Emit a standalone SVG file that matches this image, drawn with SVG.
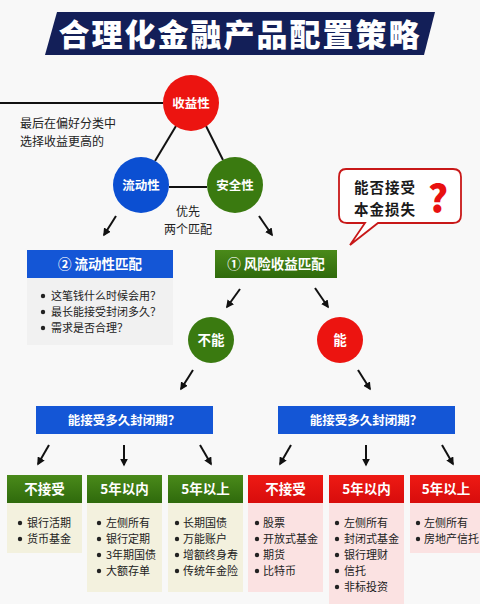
<svg xmlns="http://www.w3.org/2000/svg" width="480" height="604" viewBox="0 0 480 604">
<defs>
<style>
text{font-family:"Noto Sans CJK SC","Liberation Sans",sans-serif;}
.t{fill:#fff;font-weight:700;text-anchor:middle;}
.li{fill:#222;font-size:11px;}
.ln{stroke:#111;stroke-width:2;fill:none;}
.ar{stroke:#111;stroke-width:2;fill:none;marker-end:url(#ah);}
.gh{fill:url(#gg);}
.rh{fill:url(#rg);}
.gb{fill:#f3f1de;}
.rb{fill:#fbe2e2;}
</style>
<marker id="ah" viewBox="0 0 10 10" refX="8" refY="5" markerWidth="4" markerHeight="4" orient="auto"><path d="M0,0 L10,5 L0,10 z" fill="#111"/></marker>
<linearGradient id="gg" x1="0" y1="0" x2="0" y2="1"><stop offset="0" stop-color="#4a8a1a"/><stop offset="1" stop-color="#2f6a0c"/></linearGradient>
<linearGradient id="rg" x1="0" y1="0" x2="0" y2="1"><stop offset="0" stop-color="#ee1a14"/><stop offset="1" stop-color="#d80c0c"/></linearGradient>
</defs>
<rect width="480" height="604" fill="#f8f8f8"/>
<g id="title">
<polygon points="57,12 435,12 424,55 45,55" fill="#131f58"/>
<text x="240" y="46" class="t" style="font-size:31px;font-weight:900;letter-spacing:2px">合理化金融产品配置策略</text>
</g>
<g id="connectors">
<line x1="0" y1="103" x2="163" y2="103" class="ln"/>
<line x1="176" y1="126" x2="155" y2="161" class="ln"/>
<line x1="206" y1="126" x2="223" y2="160" class="ln"/>
<line x1="169" y1="187" x2="207" y2="187" class="ln"/>
<line x1="116" y1="216" x2="104" y2="235" class="ar"/>
<line x1="259" y1="216" x2="272" y2="235" class="ar"/>
<line x1="240" y1="289" x2="227" y2="307" class="ar"/>
<line x1="315" y1="288" x2="328" y2="307" class="ar"/>
<line x1="193" y1="370" x2="181" y2="389" class="ar"/>
<line x1="358" y1="370" x2="370" y2="389" class="ar"/>
<line x1="49" y1="445" x2="38" y2="464" class="ar"/>
<line x1="124" y1="445" x2="124" y2="465" class="ar"/>
<line x1="200" y1="445" x2="211" y2="464" class="ar"/>
<line x1="291" y1="445" x2="280" y2="464" class="ar"/>
<line x1="366" y1="445" x2="366" y2="465" class="ar"/>
<line x1="442" y1="445" x2="453" y2="464" class="ar"/>
</g>
<g id="note-left">
<text x="20" y="128" class="li" style="font-size:12px">最后在偏好分类中</text>
<text x="20" y="146" class="li" style="font-size:12px">选择收益更高的</text>
</g>
<g id="note-mid">
<text x="188" y="216" class="li" style="font-size:12px;text-anchor:middle">优先</text>
<text x="188" y="234" class="li" style="font-size:12px;text-anchor:middle">两个匹配</text>
</g>
<g id="shouyi">
<circle cx="191" cy="103" r="28" fill="#ec1410"/>
<text x="191" y="108" class="t" style="font-size:12.5px">收益性</text>
</g>
<g id="liudong">
<circle cx="141" cy="185" r="28" fill="#0b4fd2"/>
<text x="141" y="190" class="t" style="font-size:12.5px">流动性</text>
</g>
<g id="anquan">
<circle cx="235" cy="185" r="28" fill="#3a7a10"/>
<text x="235" y="190" class="t" style="font-size:12.5px">安全性</text>
</g>
<g id="bubble">
<path d="M346,169 H453 Q461,169 461,177 V215 Q461,223 453,223 H378 L350,245 L365,223 H347 Q339,223 339,215 V177 Q339,169 346,169 Z" fill="#fff" stroke="#c81818" stroke-width="1.8"/>
<text x="354" y="193" style="font-size:14.5px;font-weight:700;fill:#1a1a1a;letter-spacing:1px">能否接受</text>
<text x="354" y="214.5" style="font-size:14.5px;font-weight:700;fill:#1a1a1a;letter-spacing:1px">本金损失</text>
<text x="438" y="213" style="font-size:38px;font-weight:900;fill:#e8100f;text-anchor:middle">?</text>
</g>
<g id="match2">
<rect x="27" y="250" width="146" height="28" fill="#1456d6"/>
<text x="100" y="269" class="t" style="font-size:13.5px">② 流动性匹配</text>
<rect x="27" y="278" width="146" height="67" fill="#f1f1f1"/>
<circle cx="43" cy="296" r="2.2" fill="#222"/><text x="51" y="300" class="li">这笔钱什么时候会用？</text>
<circle cx="43" cy="312" r="2.2" fill="#222"/><text x="51" y="316" class="li">最长能接受封闭多久？</text>
<circle cx="43" cy="328" r="2.2" fill="#222"/><text x="51" y="332" class="li">需求是否合理？</text>
</g>
<g id="match1">
<rect x="215" y="250" width="122" height="28" fill="url(#gg)"/>
<text x="276" y="269" class="t" style="font-size:13.5px">① 风险收益匹配</text>
</g>
<g id="buneng">
<circle cx="211" cy="340" r="23" fill="#3a7a10"/>
<text x="211" y="345" class="t" style="font-size:13.5px">不能</text>
</g>
<g id="neng">
<circle cx="340" cy="340" r="23" fill="#ec1410"/>
<text x="340" y="345" class="t" style="font-size:13.5px">能</text>
</g>
<g id="q-left">
<rect x="36" y="406" width="177" height="28" fill="#1456d6"/>
<text x="124" y="424.5" class="t" style="font-size:12.5px">能接受多久封闭期？</text>
</g>
<g id="q-right">
<rect x="278" y="406" width="177" height="28" fill="#1456d6"/>
<text x="366" y="424.5" class="t" style="font-size:12.5px">能接受多久封闭期？</text>
</g>
<g id="g1">
<rect x="7" y="503" width="75" height="50" class="gb"/>
<rect x="7" y="475" width="75" height="28" class="gh"/>
<text x="44.5" y="494" class="t" style="font-size:13.5px">不接受</text>
<circle cx="20" cy="523" r="2.2" fill="#222"/><text x="27" y="527" class="li">银行活期</text>
<circle cx="20" cy="539" r="2.2" fill="#222"/><text x="27" y="543" class="li">货币基金</text>
</g>
<g id="g2">
<rect x="87" y="503" width="75" height="89" class="gb"/>
<rect x="87" y="475" width="75" height="28" class="gh"/>
<text x="124.5" y="494" class="t" style="font-size:13.5px">5年以内</text>
<circle cx="99" cy="523" r="2.2" fill="#222"/><text x="106" y="527" class="li">左侧所有</text>
<circle cx="99" cy="539" r="2.2" fill="#222"/><text x="106" y="543" class="li">银行定期</text>
<circle cx="99" cy="555" r="2.2" fill="#222"/><text x="106" y="559" class="li">3年期国债</text>
<circle cx="99" cy="571" r="2.2" fill="#222"/><text x="106" y="575" class="li">大额存单</text>
</g>
<g id="g3">
<rect x="168" y="503" width="75" height="89" class="gb"/>
<rect x="168" y="475" width="75" height="28" class="gh"/>
<text x="205.5" y="494" class="t" style="font-size:13.5px">5年以上</text>
<circle cx="177" cy="523" r="2.2" fill="#222"/><text x="183" y="527" class="li">长期国债</text>
<circle cx="177" cy="539" r="2.2" fill="#222"/><text x="183" y="543" class="li">万能账户</text>
<circle cx="177" cy="555" r="2.2" fill="#222"/><text x="183" y="559" class="li">增额终身寿</text>
<circle cx="177" cy="571" r="2.2" fill="#222"/><text x="183" y="575" class="li">传统年金险</text>
</g>
<g id="r1">
<rect x="248" y="503" width="75" height="89" class="rb"/>
<rect x="248" y="475" width="75" height="28" class="rh"/>
<text x="285.5" y="494" class="t" style="font-size:13.5px">不接受</text>
<circle cx="257" cy="523" r="2.2" fill="#222"/><text x="263" y="527" class="li">股票</text>
<circle cx="257" cy="539" r="2.2" fill="#222"/><text x="263" y="543" class="li">开放式基金</text>
<circle cx="257" cy="555" r="2.2" fill="#222"/><text x="263" y="559" class="li">期货</text>
<circle cx="257" cy="571" r="2.2" fill="#222"/><text x="263" y="575" class="li">比特币</text>
</g>
<g id="r2">
<rect x="329" y="503" width="75" height="101" class="rb"/>
<rect x="329" y="475" width="75" height="28" class="rh"/>
<text x="366.5" y="494" class="t" style="font-size:13.5px">5年以内</text>
<circle cx="337" cy="523" r="2.2" fill="#222"/><text x="344" y="527" class="li">左侧所有</text>
<circle cx="337" cy="539" r="2.2" fill="#222"/><text x="344" y="543" class="li">封闭式基金</text>
<circle cx="337" cy="555" r="2.2" fill="#222"/><text x="344" y="559" class="li">银行理财</text>
<circle cx="337" cy="571" r="2.2" fill="#222"/><text x="344" y="575" class="li">信托</text>
<circle cx="337" cy="587" r="2.2" fill="#222"/><text x="344" y="591" class="li">非标投资</text>
</g>
<g id="r3">
<rect x="410" y="503" width="70" height="50" class="rb"/>
<rect x="410" y="475" width="70" height="28" class="rh"/>
<text x="446" y="494" class="t" style="font-size:13.5px">5年以上</text>
<circle cx="418" cy="523" r="2.2" fill="#222"/><text x="424" y="527" class="li">左侧所有</text>
<circle cx="418" cy="539" r="2.2" fill="#222"/><text x="424" y="543" class="li">房地产信托</text>
</g>
</svg>
